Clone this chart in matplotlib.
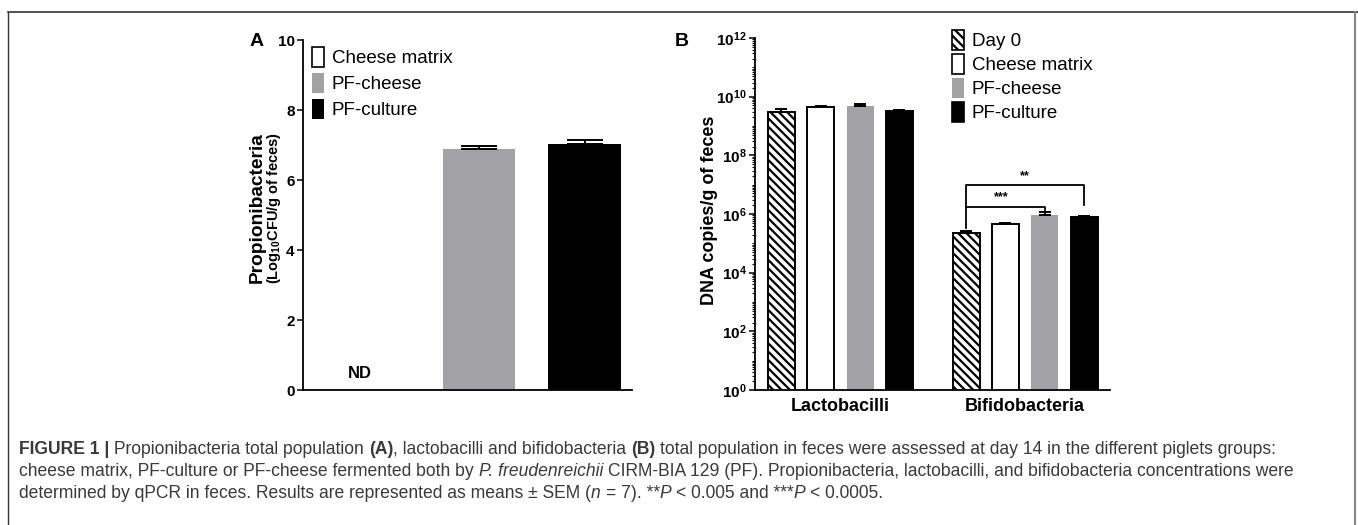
import numpy as np
import matplotlib
matplotlib.use("Agg")
import matplotlib.pyplot as plt
from matplotlib.patches import Patch
from matplotlib.lines import Line2D
from matplotlib.ticker import FixedLocator, LogLocator, NullFormatter

plt.rcParams['font.family'] = ['Liberation Sans', 'DejaVu Sans']
plt.rcParams['mathtext.fontset'] = 'custom'
plt.rcParams['mathtext.rm'] = 'Liberation Sans'
plt.rcParams['mathtext.bf'] = 'Liberation Sans:bold'
plt.rcParams['mathtext.it'] = 'Liberation Sans:italic'
plt.rcParams['hatch.linewidth'] = 1.6

# ---- data ----
groups_a = ['Cheese matrix', 'PF-cheese', 'PF-culture']
propio_log = [0.0, 6.89, 7.04]          # log10 CFU/g, cheese matrix not detected
propio_sem = [0.0, 0.09, 0.09]

groups_b = ['Day 0', 'Cheese matrix', 'PF-cheese', 'PF-culture']
bact = ['Lactobacilli', 'Bifidobacteria']
lacto = [3.0e9, 4.4e9, 4.8e9, 3.3e9]
lacto_err = [0.8e9, 0.3e9, 0.8e9, 0.3e9]
bifido = [2.2e5, 4.5e5, 9.1e5, 7.7e5]
bifido_err = [0.4e5, 0.3e5, 2.6e5, 0.8e5]

colors = ['white', '#a2a2a6', 'black']
colors_b = ['white', 'white', '#a2a2a6', 'black']
hatches_b = ['\\\\\\\\', None, None, None]

W, H = 1358, 525
fig = plt.figure(figsize=(W / 100, H / 100), dpi=100)

def fx(px):
    return px / W

def fy(py):
    return 1 - py / H

# ---- panel A ----
axA = fig.add_axes([fx(303), fy(390), fx(632 - 303), fy(40) - fy(390)])
xa = np.arange(len(groups_a)) + np.array([-0.05, 0, 0])
for i, g in enumerate(groups_a):
    if propio_log[i] > 0:
        axA.bar(xa[i], propio_log[i], width=0.69, color=colors[i], edgecolor='none',
                yerr=[[0], [propio_sem[i]]], capsize=13,
                error_kw=dict(elinewidth=1.4, capthick=1.4, ecolor='black'))
axA.text(xa[0] - 0.08, 0.25, 'ND', ha='center', va='bottom', fontsize=12, fontweight='bold')
axA.set_xlim(-0.67, 2.45)
axA.set_ylim(0, 10)
axA.set_yticks([0, 2, 4, 6, 8, 10])
axA.set_xticks([])

# ---- panel B ----
axB = fig.add_axes([fx(755), fy(390), fx(1110 - 755), fy(38) - fy(390)])
step = 0.213
for j, g in enumerate(groups_b):
    xs = np.arange(len(bact)) + (j - 1.5) * step
    vals = [lacto[j], bifido[j]]
    errs = [lacto_err[j], bifido_err[j]]
    axB.bar(xs, vals, width=0.146, color=colors_b[j],
            edgecolor='black' if colors_b[j] != '#a2a2a6' else 'none',
            linewidth=1.4, hatch=hatches_b[j],
            yerr=[[0, 0], errs], capsize=4,
            error_kw=dict(elinewidth=1.4, capthick=1.4, ecolor='black'))
axB.set_yscale('log')
axB.set_ylim(1, 1e12)
axB.set_xlim(-0.463, 1.46)
axB.yaxis.set_major_locator(FixedLocator([10.0 ** k for k in range(0, 13, 2)]))
axB.yaxis.set_minor_locator(LogLocator(base=10, subs=np.arange(1, 10), numticks=100))
axB.yaxis.set_minor_formatter(NullFormatter())
axB.set_yticklabels([r'$\mathbf{10^{%d}}$' % k for k in range(0, 13, 2)])
axB.set_xticks(np.arange(len(bact)))
axB.set_xticklabels(bact, fontsize=13, fontweight='bold')
axB.tick_params(axis='x', length=0, pad=6)
axB.tick_params(axis='y', which='minor', length=2.5, width=0.8)

# significance brackets (day 0 vs PF-cheese, day 0 vs PF-culture)
x0 = 1 + (0 - 1.5) * step
x2 = 1 + (2 - 1.5) * step
x3 = 1 + (3 - 1.5) * step
lw_br = 1.3
axB.plot([x0, x0, x3, x3], [3.4e5, 9.8e6, 9.8e6, 2.0e6], color='black', lw=lw_br)
axB.plot([x0, x2, x2], [1.8e6, 1.8e6, 1.4e6], color='black', lw=lw_br)
axB.text((x0 + x3) / 2, 1.25e7, '**', ha='center', va='bottom', fontsize=9, fontweight='bold')
axB.text((x0 + x2) / 2 - 0.02, 2.3e6, '***', ha='center', va='bottom', fontsize=9, fontweight='bold')

for ax in (axA, axB):
    for s in ('top', 'right'):
        ax.spines[s].set_visible(False)
    for s in ('left', 'bottom'):
        ax.spines[s].set_linewidth(1.3)
    ax.tick_params(axis='y', which='major', length=4, width=1.1, labelsize=11, pad=2)
    for lab in ax.get_yticklabels():
        lab.set_fontweight('bold')

# legends
hA = [Patch(facecolor=c, edgecolor='black' if c == 'white' else 'none', linewidth=1.2) for c in colors]
axA.legend(hA, groups_a, loc='upper left', bbox_to_anchor=((301 - 303) / 329, 1.012),
           frameon=False, fontsize=13.5, handlelength=0.65, handleheight=1.25,
           handletextpad=0.4, labelspacing=0.3, borderaxespad=0.2)
hB = [Patch(facecolor=c, edgecolor='none' if c == '#a2a2a6' else 'black', linewidth=1.2, hatch=h)
      for c, h in zip(colors_b, hatches_b)]
axB.legend(hB, groups_b, loc='upper left', bbox_to_anchor=((952 - 755 - 11) / 355, 1.055),
           frameon=False, fontsize=13.5, handlelength=0.65, handleheight=1.25,
           handletextpad=0.4, labelspacing=0.2, borderaxespad=0.2)

# axis labels and panel letters
fig.text(fx(257), fy(208), 'Propionibacteria', rotation=90, ha='center', va='center',
         fontsize=13.8, fontweight='bold')
fig.text(fx(274), fy(208), r'(Log$_{\mathbf{10}}$CFU/g of feces)', rotation=90,
         ha='center', va='center', fontsize=10.5, fontweight='bold')
fig.text(fx(710), fy(210), 'DNA copies/g of feces', rotation=90, ha='center', va='center',
         fontsize=13, fontweight='bold')
fig.text(fx(257), fy(41), 'A', ha='center', va='center', fontsize=14, fontweight='bold')
fig.text(fx(682), fy(41), 'B', ha='center', va='center', fontsize=14, fontweight='bold')

# frame around figure
fig.add_artist(Line2D([fx(8), 1], [fy(12), fy(12)], color='#333333', lw=1.2))
fig.add_artist(Line2D([fx(8), fx(8)], [fy(12), 0], color='#333333', lw=1.0))
fig.add_artist(Line2D([fx(1355), fx(1355)], [fy(12), 0], color='#888888', lw=1.6))

# caption with mixed styles
cap_col = '#3a3a3a'
cap_size = 12.65
renderer = fig.canvas.get_renderer()
sp = fig.text(0, 0, 'a a', fontsize=cap_size)
sp2 = fig.text(0, 0, 'aa', fontsize=cap_size)
space_w = sp.get_window_extent(renderer).width - sp2.get_window_extent(renderer).width
sp.remove()
sp2.remove()

caption = [
    [("FIGURE 1 |", 'bold', 'normal'), (" Propionibacteria total population ", 'normal', 'normal'),
     ("(A)", 'bold', 'normal'), (", lactobacilli and bifidobacteria ", 'normal', 'normal'),
     ("(B)", 'bold', 'normal'),
     (" total population in feces were assessed at day 14 in the different piglets groups:", 'normal', 'normal')],
    [("cheese matrix, PF-culture or PF-cheese fermented both by ", 'normal', 'normal'),
     ("P. freudenreichii", 'normal', 'italic'),
     (" CIRM-BIA 129 (PF). Propionibacteria, lactobacilli, and bifidobacteria concentrations were", 'normal', 'normal')],
    [("determined by qPCR in feces. Results are represented as means \u00b1 SEM (", 'normal', 'normal'),
     ("n", 'normal', 'italic'), (" = 7). **", 'normal', 'normal'), ("P", 'normal', 'italic'),
     (" < 0.005 and ***", 'normal', 'normal'), ("P", 'normal', 'italic'), (" < 0.0005.", 'normal', 'normal')],
]
line_y = [449, 471, 493]
for row, ypx in zip(caption, line_y):
    xpx = 19
    for txt, weight, style in row:
        lead = len(txt) - len(txt.lstrip(' '))
        trail = len(txt) - len(txt.rstrip(' '))
        core = txt.strip(' ')
        xpx += lead * space_w
        t = fig.text(fx(xpx), fy(ypx), core, fontsize=cap_size, fontweight=weight,
                     fontstyle=style, color=cap_col, ha='left', va='center')
        xpx += t.get_window_extent(renderer).width + trail * space_w

fig.savefig('out.png', dpi=100)
